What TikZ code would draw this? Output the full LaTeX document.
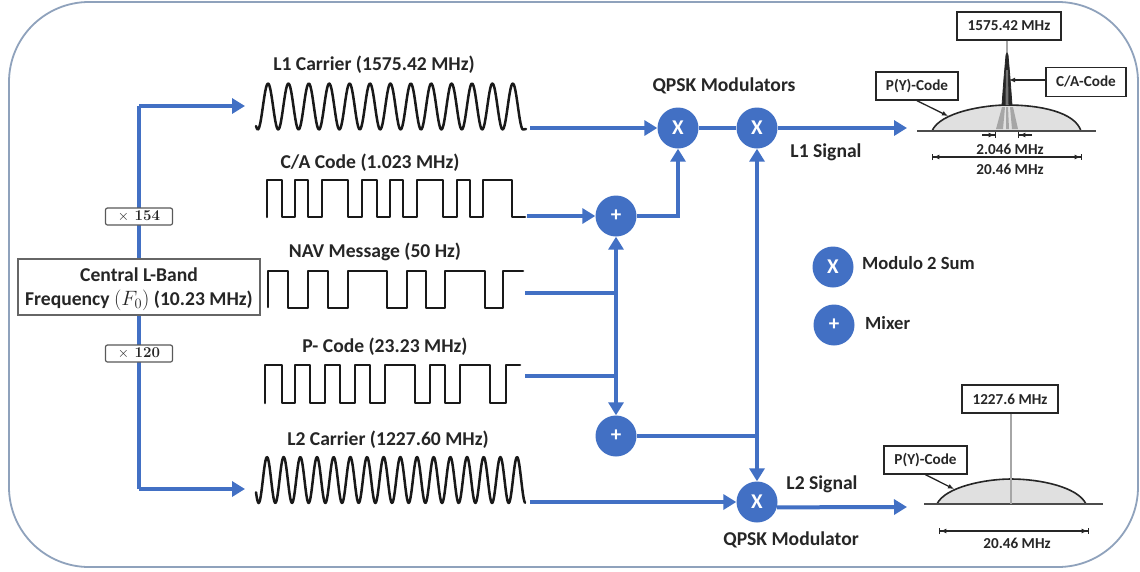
\documentclass[tikz,border=0pt]{standalone}
\usepackage[no-math]{fontspec}
\setsansfont{Carlito}
\usetikzlibrary{arrows.meta,calc}
\definecolor{sigblue}{HTML}{4270C4}
\definecolor{frameblue}{HTML}{8FA2BC}
\definecolor{ink}{HTML}{262626}
\tikzset{
  lbl/.style={font=\sffamily\bfseries\fontsize{19.6}{22}\selectfont,text=ink,inner sep=0pt},
  legendtext/.style={font=\sffamily\bfseries\fontsize{18.6}{21}\selectfont,text=ink,inner sep=0pt,anchor=west},
  small/.style={font=\sffamily\bfseries\fontsize{15.2}{17}\selectfont,text=ink,inner sep=0pt},
  opnode/.style={circle,fill=sigblue,minimum size=41pt,inner sep=0pt,text=white,font=\sffamily\bfseries\fontsize{21}{22}\selectfont},
  wave/.style={draw=black!90,line width=2.5pt,line join=round,line cap=round},
  conn/.style={draw=sigblue,line width=4pt},
  tip/.style={conn,-{Triangle[length=13pt,width=15pt]}},
  specbox/.style={draw=ink,line width=1.4pt,fill=white,small,inner sep=0pt},
  mult/.style={draw=black!65,line width=1.2pt,rounded corners=2pt,fill=white,minimum width=67pt,minimum height=17pt,inner sep=0pt,font=\bfseries\fontsize{15}{16}\selectfont,text=ink},
  thin dim/.style={draw=ink,line width=1.3pt},
  dimboth/.style={thin dim,{Bar[width=6pt]Latex[length=6pt,width=5pt]}-{Latex[length=6pt,width=5pt]Bar[width=6pt]}},
  leader/.style={draw=ink,line width=1.3pt,-{Latex[length=6pt,width=5pt]}},
  dome/.style={draw=ink,line width=1.6pt,fill=black!12},
  axisline/.style={draw=black!70,line width=1.8pt},
}
\begin{document}
\begin{tikzpicture}[x=1pt,y=-1pt]
\useasboundingbox (0,0) rectangle (1140,571);
\fill[white] (0,0) rectangle (1140,571);
\draw[frameblue,line width=1.8pt,rounded corners=80pt] (9,2) rectangle (1138,567);

% operators
\node[opnode] (x1) at (678,128) {X};
\node[opnode] (x2) at (757,128) {X};
\node[opnode] (p1) at (616,216) {+};
\node[opnode] (p2) at (616,436) {+};
\node[opnode] (x3) at (757,502) {X};
\node[opnode] (lx) at (833,267) {X};
\node[opnode] (lp) at (834,325) {+};
\node[legendtext] (lxt) at (862,263) {Modulo 2 Sum};
\node[legendtext] (lpt) at (865,323) {Mixer};

% waveforms
\draw[wave] plot[domain=256:523,samples=320] (\x,{106.5-23*cos((\x-268)/20.4*360)}) -- (526,129);
\draw[wave] (267,217) |- (282,180) |- (295,217) |- (308,180) |- (322,217) |- (348,180) |- (362,217) |- (377,180) |- (390,217) |- (403,180) |- (417,217) |- (443,180) |- (457,217) |- (470,180) |- (483,217) |- (512,180) |- (525,217);
\draw[wave] (268,307) |- (288,271) |- (308,308) |- (328,271) |- (348,308) |- (387,271) |- (407,308) |- (426,271) |- (445,308) |- (485,271) |- (503,308) |- (523,271);
\draw[wave] (265,403) |- (282,365) |- (295,403) |- (310,365) |- (325,403) |- (340,365) |- (355,403) |- (370,365) |- (385,403) |- (415,365) |- (430,403) |- (445,365) |- (460,403) |- (490,365) |- (506,403) |- (520,365);
\draw[wave] plot[domain=256:525,samples=400] (\x,{480-23*cos((\x-267)/16.67*360)});

\node[lbl] (l1t) at (374,65) {L1 Carrier (1575.42 MHz)};
\node[lbl] (cat) at (370,163) {C/A Code (1.023 MHz)};
\node[lbl] (navt) at (375,252) {NAV Message (50 Hz)};
\node[lbl] (pt) at (385,347) {P- Code (23.23 MHz)};
\node[lbl] (l2t) at (388,440) {L2 Carrier (1227.60 MHz)};
\node[lbl] (qm) at (724,86) {QPSK Modulators};
\node[lbl] (qm2) at (791,540) {QPSK Modulator};
\node[lbl] (s1) at (826,152) {L1 Signal};
\node[lbl] (s2) at (822,484) {L2 Signal};

% free ends
\coordinate (l1o) at (530,128);
\coordinate (cao) at (527,216);
\coordinate (navo) at (525,293);
\coordinate (po) at (525,376);
\coordinate (l2o) at (530,502);
\coordinate (j1) at (616,293);
\coordinate (j2) at (616,376);
\coordinate (j3) at (757,436);
\coordinate (sig1) at (907,128);
\coordinate (sig2) at (907,507);
\coordinate (ftop) at (139,106);
\coordinate (fbot) at (139,489);
\coordinate (l1i) at (245,106);
\coordinate (l2i) at (245,489);

% connectors
\draw[conn] (fbot) -- (ftop);
\draw[tip] (ftop) -- (l1i);
\draw[tip] (fbot) -- (l2i);
\draw[tip] (l1o) -- (x1);
\draw[tip] (cao) -- (p1);
\draw[conn] (navo) -- (j1);
\draw[conn] (po) -- (j2);
\draw[tip] (j1) -- (p1);
\draw[tip] (j1) -- (p2);
\draw[tip] (p1) -| (x1);
\draw[conn] (x1) -- (x2);
\draw[tip] (x2) -- (sig1);
\draw[conn] (p2) -- (j3);
\draw[tip] (j3) -- (x2);
\draw[tip] (j3) -- (x3);
\draw[tip] (l2o) -- (x3);
\draw[tip] (x3.-15) -- (sig2);

% frequency source
\node[draw=black!60,line width=1.3pt,fill=white,minimum width=242pt,minimum height=56pt,inner sep=0pt,align=center,lbl,text depth=0pt] (f0) at (139,287)
  {\rule{0pt}{12pt}Central L-Band\\[2pt]Frequency $(F_0)$ (10.23 MHz)};
\node[mult] (m1) at (139,216.5) {$\times$ 154};
\node[mult] (m2) at (139,353.5) {$\times$ 120};

% L1 spectrum
\path[dome,fill=black!12] (932,131) .. controls (940,112) and (985,105) .. (1007,105) .. controls (1040,105) and (1075,112) .. (1081,131);
\fill[black!35] (996,129) -- (1002,107) -- (1005,107) -- (1003,129) -- cycle;
\fill[black!35] (1006,129) -- (1006,107) -- (1008,107) -- (1009,129) -- cycle;
\fill[black!35] (1012,129) -- (1010,107) -- (1013,107) -- (1018,129) -- cycle;
\draw[axisline] (917,131) -- (1096,131);
\node[specbox,minimum width=104pt,minimum height=28pt] (b1) at (1009,26) {1575.42 MHz};
\coordinate (pk) at (1007,55);
\draw[black!35,line width=1.4pt] (b1.south -| pk) -- (pk);
\path[fill=ink,draw=ink,line width=.8pt] (1002,105) -- (1004,78) -- (1006,55) -- (1007,53) -- (1008,55) -- (1010,78) -- (1012,105) -- cycle;
\path[fill=black!55] (1005.5,105) -- (1006,70) -- (1008,70) -- (1008.5,105) -- cycle;
\node[specbox,minimum width=80pt,minimum height=29pt] (ca) at (1086,82) {C/A-Code};
\coordinate (cap) at (1009,80);
\draw[leader] (ca.west |- cap) -- (cap);
\node[specbox,minimum width=82pt,minimum height=28pt] (py1) at (917,86) {P(Y)-Code};
\coordinate (pyp) at (948,116);
\draw[leader] (py1.south) -- (pyp);
\coordinate (a1) at (982,135);
\coordinate (a2) at (996,135);
\coordinate (a3) at (1032,135);
\coordinate (a4) at (1018,135);
\draw[thin dim,-{Latex[length=6pt,width=5pt]Bar[width=6pt]}] (a1) -- (a2);
\draw[thin dim,-{Latex[length=6pt,width=5pt]Bar[width=6pt]}] (a3) -- (a4);
\node[small] (t2046) at (1010,149) {2.046 MHz};
\coordinate (d1) at (932,157);
\coordinate (d2) at (1082,157);
\draw[dimboth] (d1) -- (d2);
\node[small] (t2046b) at (1010,169) {20.46 MHz};

% L2 spectrum
\path[dome,fill=black!12] (937,504) .. controls (945,487) and (985,479) .. (1011,479) .. controls (1040,479) and (1078,487) .. (1086,504);
\draw[axisline] (924,504) -- (1103,504);
\node[specbox,minimum width=96pt,minimum height=28pt] (b2) at (1010,399) {1227.6 MHz};
\coordinate (b2e) at (1011,504);
\draw[black!35,line width=1.4pt] (b2.south -| b2e) -- (b2e);
\node[specbox,minimum width=83pt,minimum height=28pt] (py2) at (925.5,460) {P(Y)-Code};
\coordinate (pyq) at (954,489);
\draw[leader] (py2.south) -- (pyq);
\coordinate (e1) at (939,531);
\coordinate (e2) at (1089,531);
\draw[dimboth] (e1) -- (e2);
\node[small] (t2046c) at (1017,543) {20.46 MHz};
\end{tikzpicture}
\end{document}
